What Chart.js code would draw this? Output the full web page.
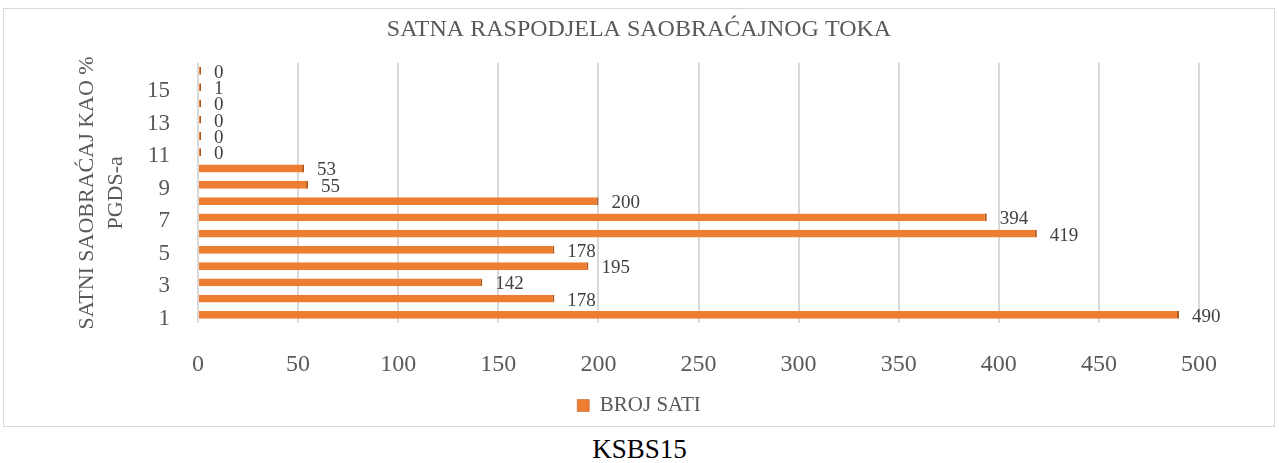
<!DOCTYPE html>
<html>
<head>
<meta charset="utf-8">
<script src="https://cdn.jsdelivr.net/npm/chart.js@4/dist/chart.umd.min.js"></script>
<style>
  html, body { margin: 0; padding: 0; background: #fff; }
  body { width: 1279px; height: 463px; position: relative; overflow: hidden; }
  #box {
    position: absolute; left: 3px; top: 8px; width: 1272px; height: 419px;
    border: 1px solid #d9d9d9; box-sizing: border-box;
  }
  #box canvas { display: block; }
  #caption {
    position: absolute; left: 0; top: 433px; width: 1279px; text-align: center;
    font: 27px/32px 'Liberation Serif', serif; color: #000;
  }
</style>
</head>
<body>
<div id="box"><canvas id="chart" width="1270" height="417"></canvas></div>
<div id="caption">KSBS15</div>
<script>
const hours = ['1', '2', '3', '4', '5', '6', '7', '8', '9', '10', '11', '12', '13', '14', '15', '16'];
const brojSati = [490, 178, 142, 195, 178, 419, 394, 200, 55, 53, 0, 0, 0, 0, 1, 0];
const xTicks = [0, 50, 100, 150, 200, 250, 300, 350, 400, 450, 500];

const serif = "'Liberation Serif', 'Times New Roman', serif";
Chart.defaults.font.family = serif;
Chart.defaults.color = '#595959';

// value printed just right of each bar end
const barValues = {
  id: 'barValues',
  afterDatasetsDraw(chart) {
    const ctx = chart.ctx;
    const meta = chart.getDatasetMeta(0);
    ctx.save();
    ctx.font = '19px ' + serif;
    ctx.fillStyle = '#404040';
    ctx.textAlign = 'left';
    ctx.textBaseline = 'middle';
    meta.data.forEach((bar, i) => {
      ctx.fillText(String(brojSati[i]), bar.x + 13, bar.y + 2);
    });
    ctx.restore();
  }
};

const chartConfig = {
  type: 'bar',
  data: {
    labels: hours,
    datasets: [{
      label: 'BROJ SATI',
      data: brojSati,
      backgroundColor: '#ED7D31',
      borderColor: '#B5571A',
      borderWidth: {top: 0, bottom: 0, left: 0, right: 2},
      borderSkipped: false,
      minBarLength: 3,
      barPercentage: 1,
      categoryPercentage: 0.48
    }]
  },
  options: {
    indexAxis: 'y',
    responsive: false,
    animation: false,
    layout: {padding: {left: 0, right: 0, top: 0, bottom: 0}},
    plugins: {
      title: {
        display: true,
        text: 'SATNA RASPODJELA SAOBRAĆAJNOG TOKA',
        color: '#595959',
        font: {size: 24, weight: 'normal'},
        padding: {top: 6, bottom: 19}
      },
      legend: {
        position: 'bottom',
        labels: {
          boxWidth: 12,
          boxHeight: 12,
          padding: 10,
          color: '#595959',
          font: {size: 21}
        }
      },
      tooltip: {enabled: false}
    },
    scales: {
      x: {
        min: 0,
        max: 500,
        afterBuildTicks: (scale) => { scale.ticks = xTicks.map(v => ({value: v})); },
        afterFit: (scale) => { scale.height = 62; },
        grid: {color: '#d9d9d9', lineWidth: 2, drawTicks: false},
        border: {display: false},
        ticks: {padding: 27, font: {size: 24}, color: '#595959'}
      },
      y: {
        reverse: true,
        afterFit: (scale) => { scale.width = 194; },
        grid: {display: false, drawTicks: false},
        border: {display: false},
        ticks: {
          autoSkip: false,
          padding: 28,
          labelOffset: 4,
          font: {size: 23},
          color: '#595959',
          callback: (value, index) => index % 2 === 0 ? hours[index] : ''
        },
        title: {
          display: true,
          text: ['SATNI SAOBRAĆAJ KAO %', 'PGDS-a'],
          color: '#595959',
          font: {size: 22, lineHeight: 1.32},
          padding: {top: 69, bottom: 0}
        }
      },
      // empty right-hand axis, keeps the bars clear of the right edge
      yRight: {
        type: 'linear',
        position: 'right',
        display: true,
        afterFit: (scale) => { scale.width = 75; },
        grid: {display: false, drawTicks: false},
        border: {display: false},
        ticks: {display: false}
      }
    }
  },
  plugins: [barValues]
};

new Chart(document.getElementById('chart'), chartConfig);
</script>
</body>
</html>
